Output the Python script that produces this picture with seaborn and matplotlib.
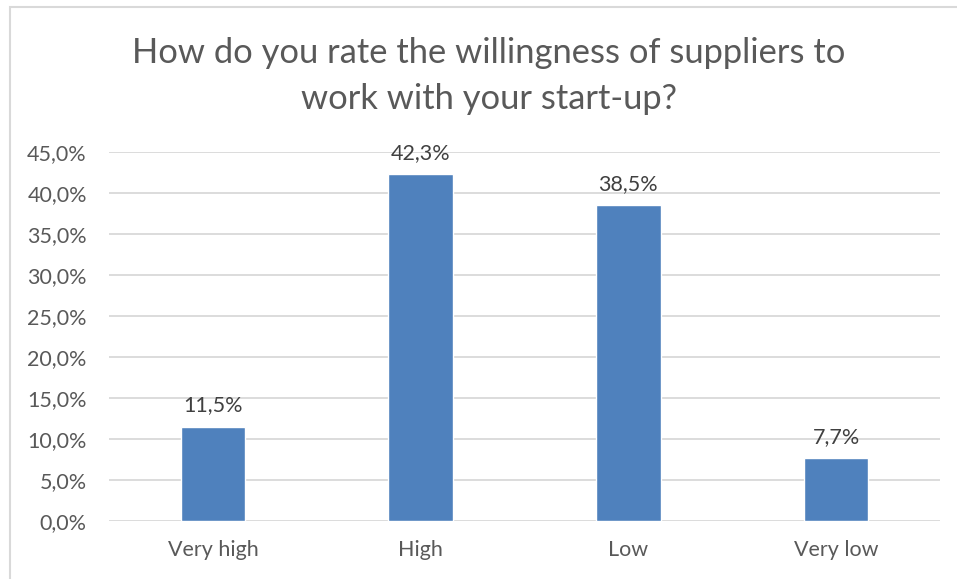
import matplotlib
matplotlib.use("Agg")
import matplotlib.pyplot as plt
import matplotlib.patches as mpatches
from matplotlib.ticker import FuncFormatter, MultipleLocator
import seaborn as sns
import pandas as pd

categories = ["Very high", "High", "Low", "Very low"]
shares = [11.5, 42.3, 38.5, 7.7]
title = "How do you rate the willingness of suppliers to\nwork with your start-up?"

TEXT = "#595959"
GRID = "#D9D9D9"
BAR = "#4F81BD"

sns.set_theme(style="white")
plt.rcParams["font.family"] = ["Lato", "DejaVu Sans"]

W, H = 957, 579
fig = plt.figure(figsize=(W / 100, H / 100), dpi=100)
ax = fig.add_axes([109 / W, 1 - 521 / H, (940 - 109) / W, (521 - 152) / H])

df = pd.DataFrame({"category": categories, "share": shares})
sns.barplot(data=df, x="category", y="share", color=BAR, width=0.31,
            saturation=1, ax=ax, zorder=3)

ax.set_ylim(0, 45)
ax.set_xlim(-0.5, len(categories) - 0.5)
ax.yaxis.set_major_locator(MultipleLocator(5))
ax.yaxis.set_major_formatter(FuncFormatter(lambda v, _: f"{v:.1f}".replace(".", ",") + "%"))
ax.grid(axis="y", color=GRID, linewidth=1.3, zorder=0)
ax.set_axisbelow(True)
for s in ax.spines.values():
    s.set_visible(False)
ax.set_xlabel("")
ax.set_ylabel("")
ax.tick_params(axis="y", length=0, pad=16, labelsize=15.5, labelcolor=TEXT)
ax.tick_params(axis="x", length=0, pad=14, labelsize=15.5, labelcolor=TEXT)

for i, v in enumerate(shares):
    ax.annotate(f"{v:.1f}".replace(".", ",") + "%", (i, v), xytext=(0, 8),
                textcoords="offset points", ha="center", va="bottom",
                fontsize=15.5, color="#404040")

fig.text(489 / W, 1 - 76 / H, title, ha="center", va="center",
         fontsize=24.8, color=TEXT, linespacing=1.55)

# chart frame
fig.patches.append(mpatches.Rectangle((10 / W, -0.1), 1.2, 1 - 7 / H + 0.1,
                                      transform=fig.transFigure, fill=False,
                                      edgecolor=GRID, linewidth=1.5))

fig.savefig("out.png", dpi=100, facecolor="white")
